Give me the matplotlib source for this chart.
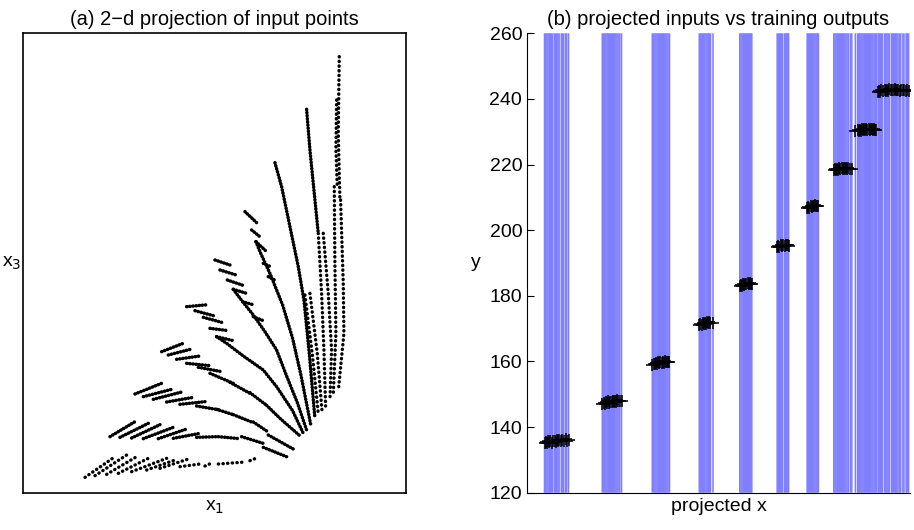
import matplotlib.pyplot as plt

plt.rcParams['font.family'] = ['Liberation Sans', 'DejaVu Sans']
plt.rcParams['font.size'] = 14

# ---------------- panel (a): 2-d projection of the inputs ----------------
# short strokes (x1 start, x3 start, x1 end, x3 end); the x3 axis runs top -> bottom
ray1 = [(255, 1432, 345, 1370), (285, 1427, 380, 1365), (320, 1423, 415, 1367),
        (355, 1420, 455, 1370), (395, 1415, 500, 1375), (440, 1410, 525, 1380),
        (480, 1405, 565, 1377), (540, 1400, 600, 1392), (615, 1398, 640, 1387),
        (655, 1392, 735, 1386), (750, 1382, 775, 1372)]
ray2 = [(330, 1310, 410, 1262), (360, 1312, 445, 1270), (395, 1314, 480, 1274),
        (430, 1316, 520, 1282), (475, 1316, 560, 1287), (520, 1315, 600, 1300),
        (590, 1312, 650, 1310), (655, 1310, 720, 1316), (725, 1310, 790, 1330),
        (790, 1342, 860, 1370)]
ray3 = [(405, 1182, 485, 1150), (430, 1190, 515, 1168), (460, 1198, 545, 1176),
        (500, 1206, 580, 1192), (540, 1213, 615, 1205), (590, 1218, 660, 1230),
        (650, 1228, 700, 1244), (700, 1244, 760, 1268), (760, 1266, 805, 1296),
        (805, 1305, 880, 1347)]
ray4 = [(485, 1055, 550, 1030), (505, 1065, 575, 1047), (530, 1078, 600, 1068),
        (560, 1090, 630, 1097), (595, 1102, 660, 1114), (630, 1120, 700, 1150),
        (690, 1147, 750, 1180), (750, 1178, 800, 1216)]
ray5 = [(560, 920, 625, 914), (585, 932, 640, 947), (610, 952, 665, 967),
        (630, 985, 685, 992), (650, 1010, 700, 1022)]
ray6 = [(645, 780, 690, 795), (660, 810, 712, 826), (682, 840, 735, 858),
        (700, 868, 740, 880), (728, 905, 762, 915), (760, 950, 790, 962)]
ray7 = [(735, 635, 770, 668), (755, 690, 782, 712), (768, 725, 800, 755),
        (790, 790, 812, 800), (805, 830, 828, 842)]
# continuous inner parts of the rays
spine_x = [[800, 840, 872, 903], [650, 680, 730, 790, 830, 878, 910],
           [700, 728, 760, 795, 830, 860, 893, 920],
           [768, 780, 812, 848, 878, 903, 932],
           [825, 845, 870, 895, 912, 928, 945],
           [920, 930, 945, 955]]
spine_y = [[1216, 1255, 1283, 1310], [1010, 1030, 1068, 1110, 1160, 1232, 1300],
           [868, 905, 945, 995, 1050, 1128, 1210, 1290],
           [725, 755, 825, 915, 1015, 1125, 1272],
           [488, 560, 680, 800, 900, 1060, 1255],
           [328, 450, 600, 700]]
# looser dotted columns near the right edge of the fan
col_x = [[1018, 1015, 1020], [1010, 1008, 1012], [915, 938, 955], [930, 952, 966],
         [955, 965, 972, 977], [970, 985, 995, 990], [1003, 1005, 1008, 1000],
         [1022, 1030, 1032, 1016]]
col_y = [[170, 400, 600], [300, 450, 560], [885, 1070, 1240], [880, 1060, 1230],
         [700, 880, 1050, 1218], [700, 880, 1050, 1200], [560, 800, 1000, 1185],
         [600, 850, 1000, 1165]]

# ---------------- panel (b): projected inputs vs training outputs ----------------
proj_x = [
    [17.5, 18.6, 19.9, 21.0, 22.2, 23.3, 24.5, 25.6, 27.5, 28.6, 29.8, 31.0, 32.1,
     34.3, 35.4, 36.6, 38.5, 39.6, 41.5],
    [75.3, 76.8, 77.9, 79.0, 80.1, 81.2, 82.3, 83.4, 84.5, 85.6, 86.7, 87.8, 88.9,
     90.0, 91.1, 92.8, 94.5],
    [125.3, 126.8, 127.9, 129.0, 130.1, 131.2, 132.3, 133.4, 134.5, 135.6, 136.7,
     137.8, 138.9, 140.0, 141.1, 142.5],
    [172.3, 173.5, 174.6, 175.7, 176.8, 177.9, 179.0, 180.1, 181.2, 182.3, 183.5, 186.0],
    [212.8, 214.0, 215.1, 216.2, 217.3, 218.4, 219.5, 220.6, 221.7, 222.8, 223.9, 224.8],
    [250.2, 251.4, 252.5, 253.6, 254.7, 255.6, 257.6, 258.7, 259.8, 260.9, 261.6],
    [280.2, 281.4, 282.5, 283.6, 284.7, 285.8, 286.9, 288.0, 289.1, 290.2, 291.4],
    [306.8, 308.0, 309.1, 310.2, 311.3, 312.4, 313.5, 314.6, 315.7, 316.8, 317.9,
     319.0, 320.1, 321.5, 323.5, 324.8],
    [328.4, 330.6, 331.7, 332.8, 333.9, 335.0, 336.1, 337.2, 338.3, 339.4, 340.5,
     341.6, 342.7, 343.8, 344.9, 346.0, 347.1, 348.2, 349.5],
    [351.2, 352.3, 353.4, 354.5, 355.6, 357.8, 358.9, 360.0, 361.1, 362.2, 364.4,
     365.5, 366.6, 367.7, 368.8, 369.9, 371.0, 372.6, 373.7, 375.9, 377.0, 379.2,
     380.3, 381.6],
]
train_y = [
    [135.0, 135.4, 135.1, 135.6, 135.3, 135.8, 135.2, 135.6, 135.9, 135.4, 136.0,
     135.7, 136.2, 135.8, 136.1, 135.9, 136.3, 135.9, 136.1],
    [147.0, 147.4, 147.1, 147.6, 147.3, 147.8, 147.4, 147.7, 147.5, 147.9, 147.6,
     148.0, 147.7, 148.1, 147.8, 147.9, 147.8],
    [159.0, 159.3, 159.1, 159.6, 159.2, 159.7, 159.4, 159.8, 159.5, 159.9, 159.6,
     160.0, 159.7, 159.9, 159.8, 159.7],
    [171.1, 171.4, 171.2, 171.7, 171.4, 171.8, 171.5, 171.9, 171.6, 172.0, 171.8, 171.7],
    [183.0, 183.4, 183.1, 183.6, 183.3, 183.7, 183.5, 183.8, 183.6, 183.9, 183.7, 183.6],
    [194.8, 195.1, 194.9, 195.4, 195.2, 195.5, 195.3, 195.6, 195.4, 195.5, 195.3],
    [206.8, 207.1, 206.9, 207.4, 207.1, 207.5, 207.3, 207.6, 207.4, 207.5, 207.3],
    [218.2, 218.5, 218.3, 218.7, 218.4, 218.8, 218.5, 218.9, 218.6, 218.8, 218.7,
     218.9, 218.7, 218.8, 218.6, 218.7],
    [230.1, 230.4, 230.2, 230.6, 230.3, 230.7, 230.4, 230.8, 230.5, 230.7, 230.6,
     230.9, 230.6, 230.8, 230.7, 230.6, 230.8, 230.5, 230.6],
    [242.1, 242.4, 242.2, 242.6, 242.3, 242.7, 242.4, 242.8, 242.5, 242.9, 242.6,
     242.8, 242.7, 242.9, 242.6, 242.8, 242.7, 242.5, 242.8, 242.6, 242.7, 242.5,
     242.6, 242.4],
]
y_ticks = [120, 140, 160, 180, 200, 220, 240, 260]

fig = plt.figure(figsize=(9.14, 5.30), dpi=100)
ax1 = fig.add_axes([0.0248, 0.0704, 0.4193, 0.8668])
ax2 = fig.add_axes([0.5766, 0.0704, 0.4190, 0.8668])

# panel (a)
dense = (0, (0.1, 0.8))
sparse = (0, (0.1, 1.3))
for x0, y0, x1, y1 in ray1:
    ax1.plot([x0, x1], [y0, y1], color='black', lw=2.4, linestyle=sparse,
             dash_capstyle='round')
for ray in [ray2, ray3, ray4, ray5, ray6, ray7]:
    for x0, y0, x1, y1 in ray:
        ax1.plot([x0, x1], [y0, y1], color='black', lw=2.5, linestyle=dense,
                 dash_capstyle='round')
for xs, ys in zip(spine_x, spine_y):
    ax1.plot(xs, ys, color='black', lw=2.5, linestyle=dense, dash_capstyle='round')
for xs, ys in zip(col_x, col_y):
    ax1.plot(xs, ys, color='black', lw=2.4, linestyle=sparse, dash_capstyle='round')
ax1.set_xlim(68, 1218)
ax1.set_ylim(1478, 100)
ax1.set_xticks([])
ax1.set_yticks([])
for sp in ax1.spines.values():
    sp.set_linewidth(1.2)
ax1.set_title('(a) 2\u2212d projection of input points', fontsize=14.5, pad=6)
ax1.set_xlabel('x$_1$', fontsize=14, labelpad=4)
ax1.set_ylabel('x$_3$', fontsize=14, rotation=0, labelpad=8, va='center')

# panel (b)
for xs in proj_x:
    ax2.vlines(xs, 120, 260, color='#8080ff', lw=1.15, snap=False)
for xs, ys in zip(proj_x, train_y):
    ax2.plot(xs, ys, '+', color='black', ms=8, mew=1.1)
ax2.set_xlim(0, 383)
ax2.set_ylim(120, 260)
ax2.set_yticks(y_ticks)
ax2.set_xticks([])
ax2.tick_params(axis='y', direction='in', length=5, labelsize=14)
ax2.spines['top'].set_visible(False)
ax2.spines['right'].set_visible(False)
ax2.set_title('(b) projected inputs vs training outputs', fontsize=14.5, pad=6)
ax2.set_xlabel('projected x', fontsize=14, labelpad=4)
ax2.set_ylabel('y', fontsize=14, rotation=0, labelpad=10, va='center')

plt.savefig('out.png', dpi=100, facecolor='white')
